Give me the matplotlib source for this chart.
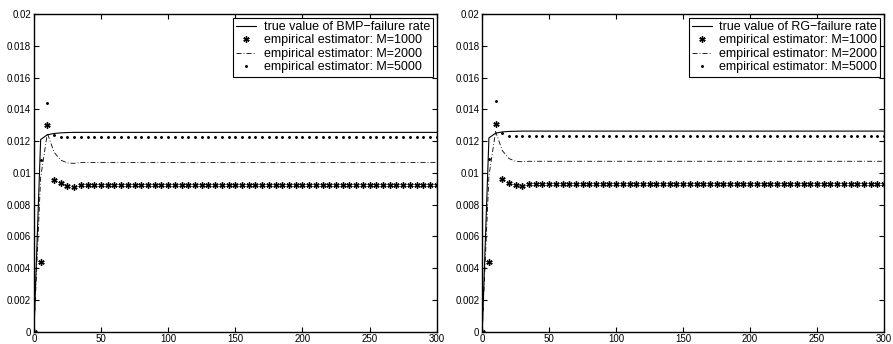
import matplotlib
matplotlib.use("Agg")
import matplotlib.pyplot as plt
import numpy as np

plt.rcParams['font.family'] = ['Liberation Sans', 'DejaVu Sans']

# time grid (step 5)
t = list(range(0, 301, 5))

def extend(head, tail_value):
    return head + [tail_value] * (len(t) - len(head))

# Left panel: BMP
bmp_true = extend([0.0, 0.0121, 0.01240, 0.01248, 0.01252, 0.01254], 0.01255)
bmp_m1000 = extend([0.0, 0.0044, 0.0130, 0.00955, 0.00936, 0.00917, 0.00913], 0.00925)
bmp_m2000 = extend([0.0, 0.0097, 0.0125, 0.0113, 0.0108, 0.01062, 0.0106], 0.01066)
bmp_m5000 = extend([0.0, 0.0108, 0.01438, 0.0124], 0.01228)

# Right panel: RG
rg_true = extend([0.0, 0.0122, 0.01250, 0.01258, 0.01261, 0.01262], 0.01263)
rg_m1000 = extend([0.0, 0.0044, 0.0131, 0.00961, 0.00938, 0.00921, 0.00917], 0.00929)
rg_m2000 = extend([0.0, 0.0098, 0.0126, 0.0114, 0.0109, 0.01072, 0.0107], 0.01073)
rg_m5000 = extend([0.0, 0.0109, 0.01452, 0.0125], 0.01234)

labels_bmp = ["true value of BMP\u2212failure rate", "empirical estimator: M=1000",
              "empirical estimator: M=2000", "empirical estimator: M=5000"]
labels_rg = ["true value of RG\u2212failure rate", "empirical estimator: M=1000",
             "empirical estimator: M=2000", "empirical estimator: M=5000"]

xticks = [0, 50, 100, 150, 200, 250, 300]
yticks = [0, 0.002, 0.004, 0.006, 0.008, 0.01, 0.012, 0.014, 0.016, 0.018, 0.02]
ytick_labels = ["0", "0.002", "0.004", "0.006", "0.008", "0.01", "0.012",
                "0.014", "0.016", "0.018", "0.02"]

fig = plt.figure(figsize=(8.93, 3.44), dpi=100)
ax1 = fig.add_axes([0.038, 0.036, 0.451, 0.923])
ax2 = fig.add_axes([0.540, 0.036, 0.450, 0.923])

def draw(ax, tv, m1, m2, m5, labels):
    ax.plot(t, tv, color='black', lw=0.8, label=labels[0])
    ax.plot(t, m1, linestyle='none', marker=(6, 2, 0), markersize=4.5,
            markeredgewidth=1.0, color='black', label=labels[1])
    ax.plot(t, m2, color='black', lw=0.6, linestyle=(0, (6, 2.5, 1, 2.5)),
            label=labels[2])
    ax.plot(t, m5, linestyle='none', marker='.', markersize=2.2,
            color='black', label=labels[3])
    ax.set_xlim(0, 300)
    ax.set_ylim(0, 0.02)
    ax.set_xticks(xticks)
    ax.set_xticklabels([str(x) for x in xticks])
    ax.set_yticks(yticks)
    ax.set_yticklabels(ytick_labels)
    ax.tick_params(direction='in', length=3.5, width=0.8, labelsize=7,
                   top=True, right=True, pad=2)
    for s in ax.spines.values():
        s.set_linewidth(1.0)
    leg = ax.legend(loc='upper right', fontsize=9, frameon=True, fancybox=False,
                    edgecolor='black', framealpha=1, borderpad=0.25,
                    labelspacing=0.12, handlelength=1.6, handletextpad=0.6,
                    borderaxespad=0.3)
    leg.get_frame().set_linewidth(0.8)

draw(ax1, bmp_true, bmp_m1000, bmp_m2000, bmp_m5000, labels_bmp)
draw(ax2, rg_true, rg_m1000, rg_m2000, rg_m5000, labels_rg)

fig.savefig("out.png", dpi=100)
